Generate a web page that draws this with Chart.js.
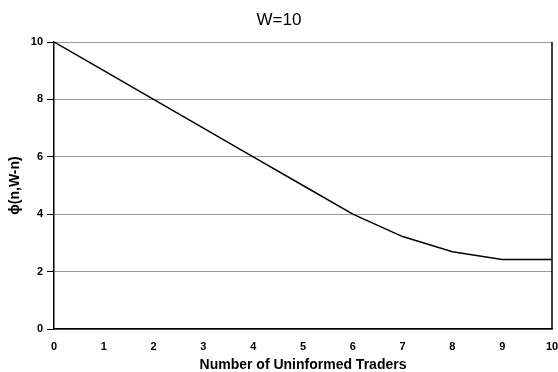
<!DOCTYPE html>
<html><head><meta charset="utf-8">
<script src="https://cdn.jsdelivr.net/npm/chart.js@4/dist/chart.umd.min.js"></script>
<style>html,body{margin:0;padding:0;background:#fff}canvas{display:block}</style>
</head><body>
<canvas id="c" width="558" height="372"></canvas>
<script>
const categories = [0,1,2,3,4,5,6,7,8,9,10];
const phiValues = [10,9,8,7,6,5,4,3.22,2.69,2.42,2.42];
const yTicks = [0,2,4,6,8,10];
const titleText = "W=10";
const xTitle = "Number of Uninformed Traders";
const yTitle = "ϕ(n,W-n)";
const FONT = '"Liberation Sans", Arial, sans-serif';

const titlePlugin = {
  id:'ttl',
  afterDraw(chart){
    const ctx = chart.ctx; ctx.save();
    ctx.font = '17px ' + FONT;
    ctx.fillStyle = '#000'; ctx.textAlign='center'; ctx.textBaseline='middle';
    ctx.fillText(titleText, 279, 20);
    ctx.restore();
  }
};
const borderPlugin = {
  id:'brd',
  afterDatasetsDraw(chart){
    const a = chart.chartArea, ctx = chart.ctx; ctx.save();
    ctx.strokeStyle='#000'; ctx.lineWidth=1.5;
    ctx.beginPath(); ctx.moveTo(a.right, a.top); ctx.lineTo(a.right, a.bottom); ctx.stroke();
    ctx.restore();
  }
};
new Chart(document.getElementById('c'), {
  type:'line',
  data:{ datasets:[{ data: categories.map((x,i)=>({x:x,y:phiValues[i]})), borderColor:'#000', borderWidth:1.5, pointRadius:0, tension:0, fill:false }]},
  options:{
    responsive:false, animation:false,
    layout:{padding:{left:7,right:6,top:42,bottom:0}},
    plugins:{legend:{display:false}, tooltip:{enabled:false}},
    scales:{
      x:{ type:'linear', min:0, max:10,
        afterBuildTicks(s){ s.ticks = categories.map(v=>({value:v})); },
        afterFit(s){ s.height = 372-329; s.paddingLeft = 0; s.paddingRight = 0; },
        grid:{display:false, drawTicks:true, tickLength:4, color:'#000'},
        border:{display:true, color:'#000', width:1.5},
        ticks:{color:'#000', font:{family:FONT, size:11, weight:'bold'}, padding:7, maxRotation:0, autoSkip:false},
        title:{display:true, text:xTitle, color:'#000', font:{family:FONT, size:14, weight:'bold'}, padding:{top:2,bottom:-2}}
      },
      y:{ type:'linear', min:0, max:10,
        afterBuildTicks(s){ s.ticks = yTicks.map(v=>({value:v})); },
        afterFit(s){ s.width = 54-7; },
        grid:{color:'#999', lineWidth:1, drawTicks:true, tickLength:7, tickColor:'#000'},
        border:{display:true, color:'#000', width:1.5},
        ticks:{color:'#000', font:{family:FONT, size:11, weight:'bold'}, padding:4},
        title:{display:true, text:yTitle, color:'#000', font:{family:FONT, size:14, weight:'bold'}, padding:{top:0,bottom:0}}
      }
    }
  },
  plugins:[titlePlugin, borderPlugin]
});
</script>
</body></html>
